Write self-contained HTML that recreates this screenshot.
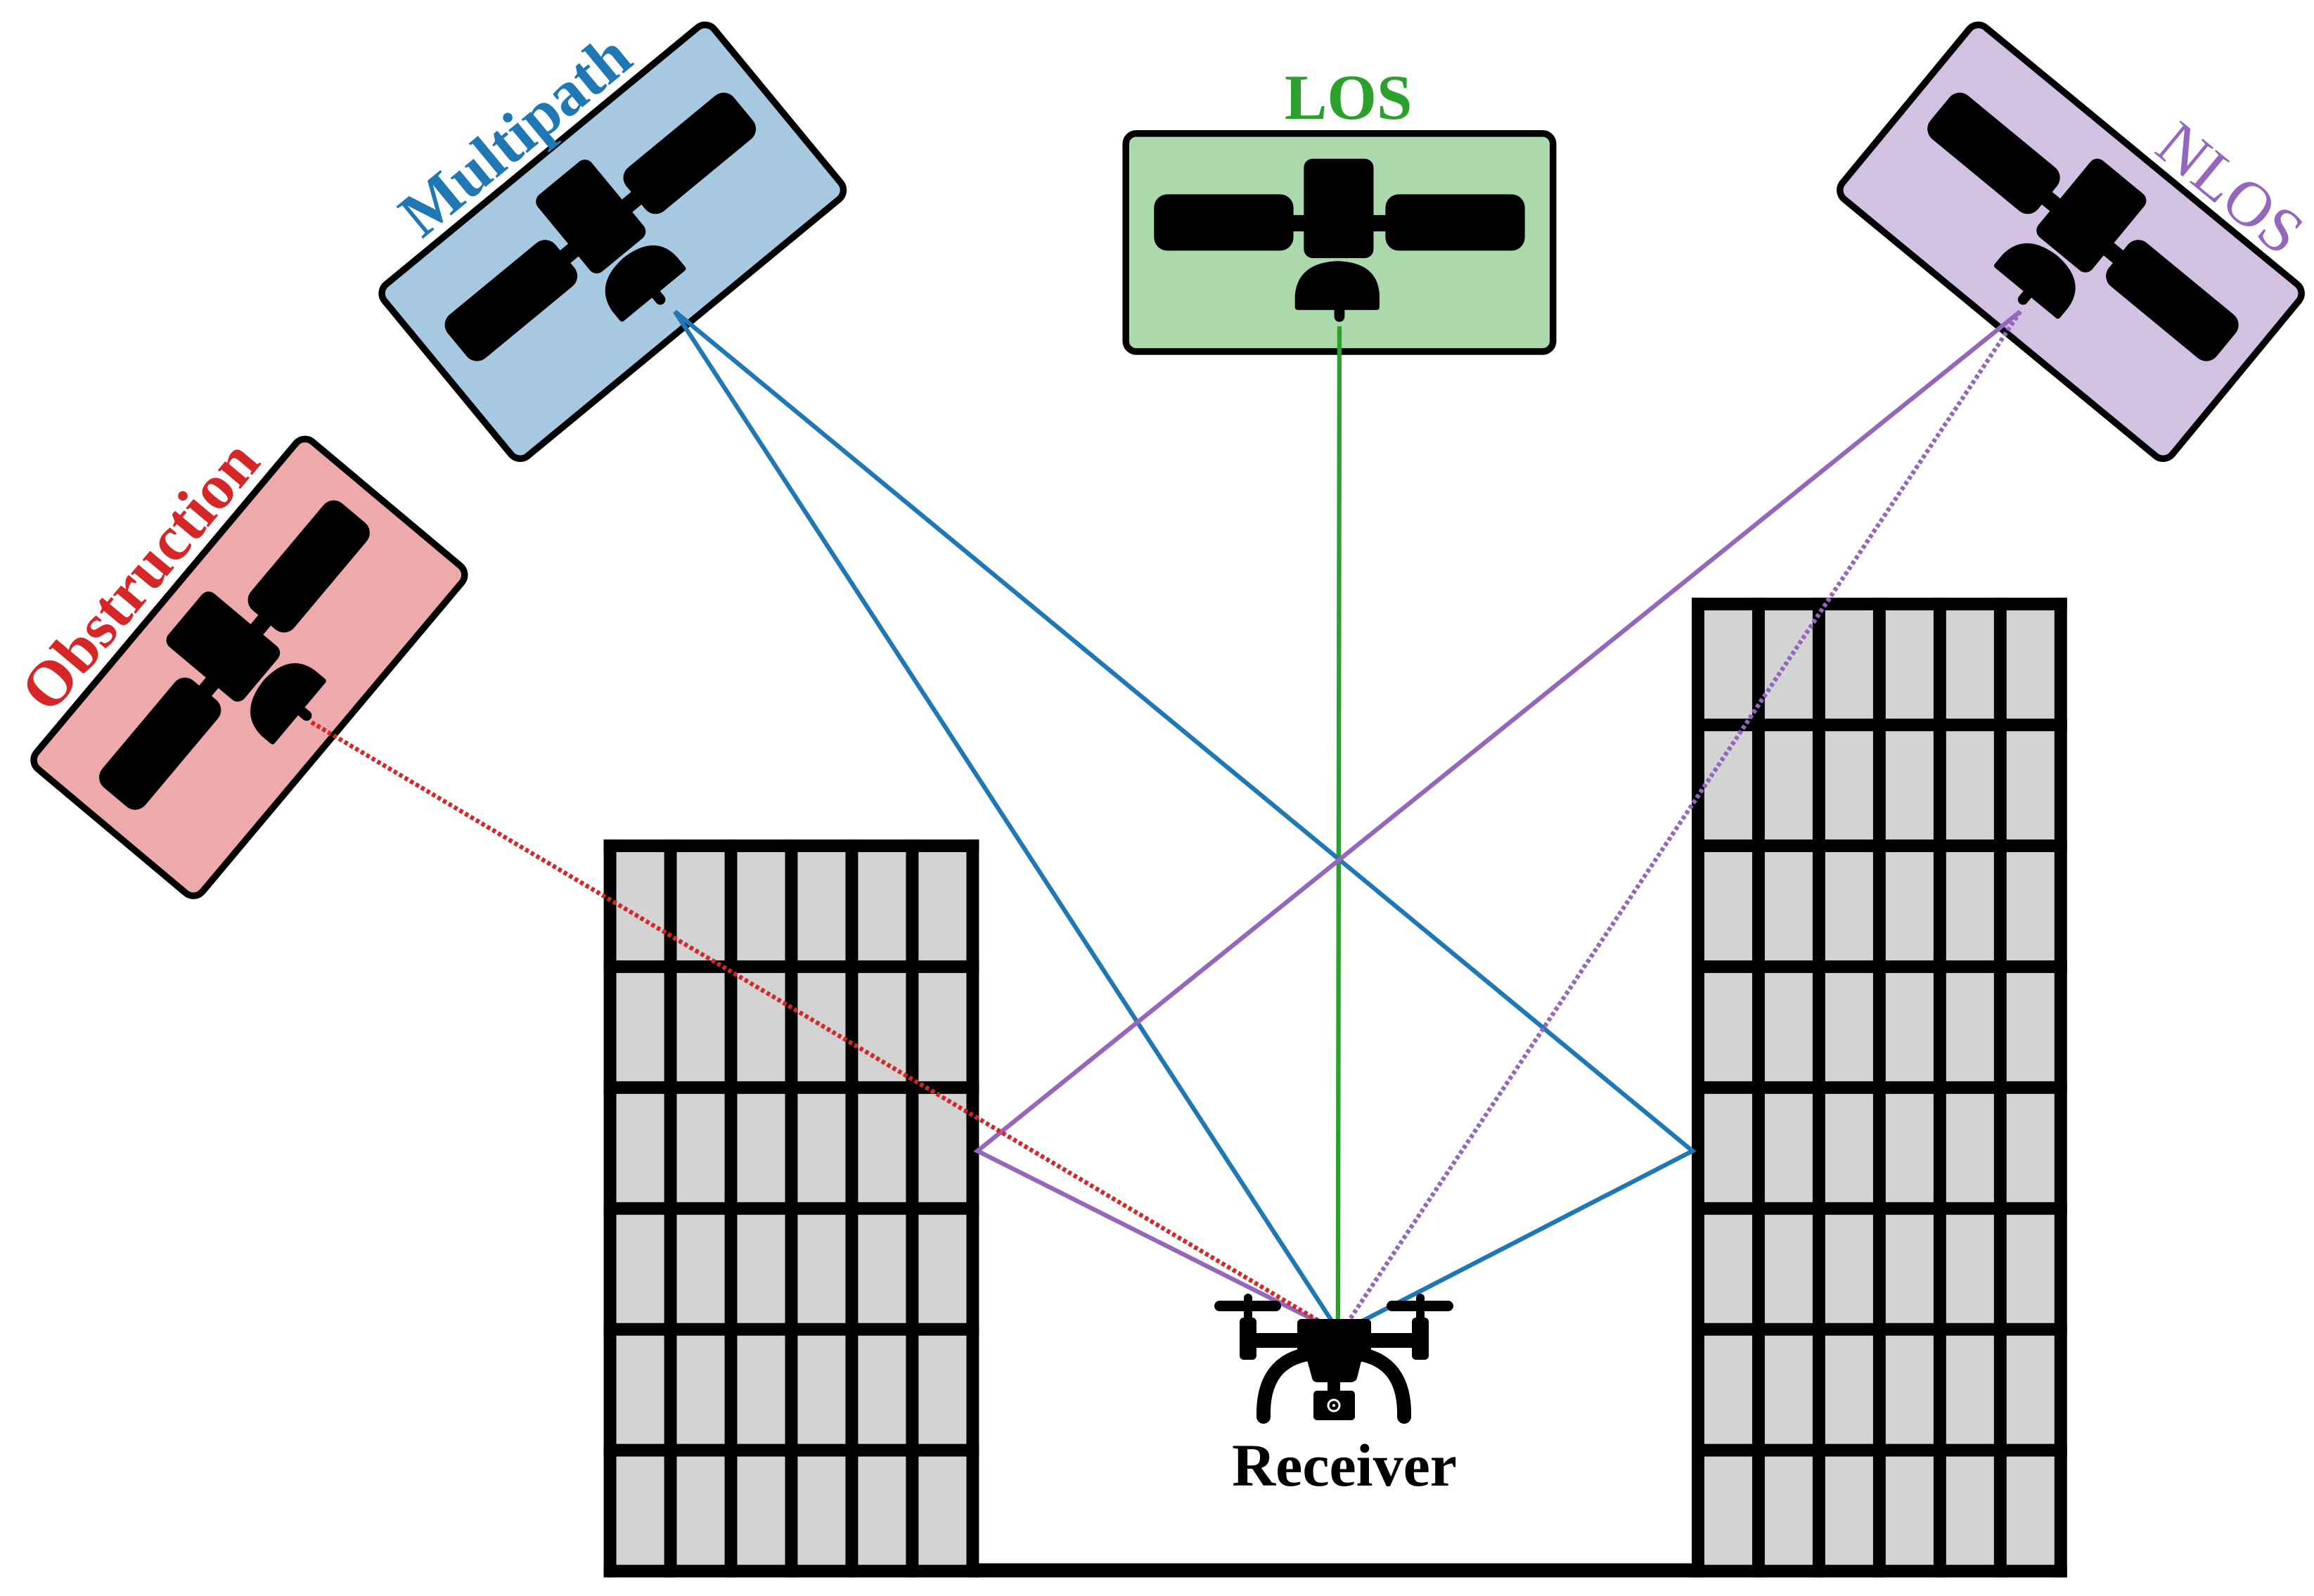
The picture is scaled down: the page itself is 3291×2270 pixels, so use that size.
<!DOCTYPE html>
<html><head><meta charset="utf-8"><style>
html,body{margin:0;padding:0;background:#fff;}
svg{display:block;}
text{font-family:"Liberation Serif",serif;font-weight:bold;}
</style></head><body>
<svg width="3291" height="2270" viewBox="0 0 3291 2270" xmlns="http://www.w3.org/2000/svg">
<defs>
<g id="sat">
  <rect x="-125" y="-32" width="94" height="38" rx="9" fill="#000"/>
  <rect x="31" y="-32" width="94" height="38" rx="9" fill="#000"/>
  <rect x="-35" y="-18" width="70" height="11" fill="#000"/>
  <rect x="-24" y="-56" width="47" height="67" rx="6" fill="#000"/>
  <path d="M -30 44 L -30 36 Q -28 14 -1 13 Q 26 14 27 36 L 27 44 Q 27 46 25 46 L -28 46 Q -30 46 -30 44 Z" fill="#000"/>
  <rect x="-3.5" y="40" width="7" height="14" rx="3.5" fill="#000"/>
</g>
</defs>
<g transform="scale(2.1096)">
  <!-- left building -->
  <rect x="407" y="566" width="253" height="497.5" fill="#d3d3d3"/>
  <g fill="#000">
    <rect x="407" y="566" width="8.5" height="497.5"/>
    <rect x="447.75" y="566" width="8.5" height="497.5"/>
    <rect x="488.5" y="566" width="8.5" height="497.5"/>
    <rect x="529.25" y="566" width="8.5" height="497.5"/>
    <rect x="570" y="566" width="8.5" height="497.5"/>
    <rect x="610.75" y="566" width="8.5" height="497.5"/>
    <rect x="651.5" y="566" width="8.5" height="497.5"/>
    <rect x="407" y="566" width="253" height="8.5"/>
    <rect x="407" y="647.5" width="253" height="8.5"/>
    <rect x="407" y="729" width="253" height="8.5"/>
    <rect x="407" y="810.5" width="253" height="8.5"/>
    <rect x="407" y="892" width="253" height="8.5"/>
    <rect x="407" y="973.5" width="253" height="8.5"/>
    <rect x="407" y="1055" width="253" height="8.5"/>
  </g>
  <!-- right building -->
  <rect x="1140.5" y="403" width="253" height="660.5" fill="#d3d3d3"/>
  <g fill="#000">
    <rect x="1140.5" y="403" width="8.5" height="660.5"/>
    <rect x="1181.25" y="403" width="8.5" height="660.5"/>
    <rect x="1222" y="403" width="8.5" height="660.5"/>
    <rect x="1262.75" y="403" width="8.5" height="660.5"/>
    <rect x="1303.5" y="403" width="8.5" height="660.5"/>
    <rect x="1344.25" y="403" width="8.5" height="660.5"/>
    <rect x="1385" y="403" width="8.5" height="660.5"/>
    <rect x="1140.5" y="403" width="253" height="8.5"/>
    <rect x="1140.5" y="484.5" width="253" height="8.5"/>
    <rect x="1140.5" y="566" width="253" height="8.5"/>
    <rect x="1140.5" y="647.5" width="253" height="8.5"/>
    <rect x="1140.5" y="729" width="253" height="8.5"/>
    <rect x="1140.5" y="810.5" width="253" height="8.5"/>
    <rect x="1140.5" y="892" width="253" height="8.5"/>
    <rect x="1140.5" y="973.5" width="253" height="8.5"/>
    <rect x="1140.5" y="1055" width="253" height="8.5"/>
  </g>
  <rect x="658" y="1054" width="485" height="9.5" fill="#000"/>

  <g transform="translate(413,163) rotate(-39.5)">
    <rect x="-144" y="-75" width="288" height="150" rx="8" fill="#a6c8e0" stroke="#000" stroke-width="4.5"/>
    <use href="#sat"/>
    <text x="-5" y="-83" font-size="43" fill="#1f77b4" text-anchor="middle">Multipath</text>
  </g>
  <g transform="translate(903,163)">
    <rect x="-144" y="-73" width="288" height="147" rx="7" fill="#abd9ab" stroke="#000" stroke-width="4.5"/>
    <use href="#sat"/>
    <text x="6" y="-83" font-size="43" fill="#2ca02c" text-anchor="middle">LOS</text>
  </g>
  <g transform="translate(1396,163) rotate(39.5)">
    <rect x="-144" y="-75" width="288" height="150" rx="8" fill="#d3c1e3" stroke="#000" stroke-width="4.5"/>
    <use href="#sat"/>
    <text x="60" y="-82" font-size="43" fill="#9467bd" text-anchor="middle" style="font-weight:normal">NLOS</text>
  </g>
  <g transform="translate(168,450) rotate(-50)">
    <rect x="-144" y="-73" width="288" height="146" rx="8" fill="#eeaaaa" stroke="#000" stroke-width="4.5"/>
    <use href="#sat"/>
    <text x="0" y="-82" font-size="43" fill="#d62728" text-anchor="middle">Obstruction</text>
  </g>

  <g fill="none" stroke-width="3">
    <line x1="903" y1="220" x2="902" y2="897" stroke="#2ca02c"/>
    <polyline points="455,210 902,897" stroke="#1f77b4"/>
    <polyline points="455,210 1141,776 906,897" stroke="#1f77b4"/>
    <polyline points="1362,210 659,776 900,897" stroke="#9467bd"/>
    <line x1="1362" y1="210" x2="905" y2="897" stroke="#9467bd" stroke-dasharray="2.5 1.8"/>
    <line x1="210" y1="487" x2="900" y2="897" stroke="#d62728" stroke-dasharray="2.5 1.8"/>
  </g>
</g>

<g fill="#000">
  <rect x="1727" y="1850" width="95" height="15" rx="7.5"/>
  <rect x="1972" y="1850" width="95" height="15" rx="7.5"/>
  <rect x="1769" y="1840" width="12" height="40" rx="6"/>
  <rect x="2014" y="1840" width="12" height="40" rx="6"/>
  <rect x="1763" y="1874" width="24" height="60" rx="6"/>
  <rect x="2008" y="1874" width="24" height="60" rx="6"/>
  <rect x="1780" y="1896" width="235" height="21"/>
  <rect x="1845" y="1876" width="105" height="50" rx="6"/>
  <path d="M 1855 1920 L 1940 1920 L 1930 1960 Q 1928 1966 1920 1966 L 1875 1966 Q 1867 1966 1866 1960 Z"/>
  <rect x="1888" y="1960" width="18" height="22"/>
  <rect x="1868" y="1978" width="59" height="42" rx="5"/>
  <path d="M 1797 2015 Q 1795 1935 1865 1925" fill="none" stroke="#000" stroke-width="20" stroke-linecap="round"/>
  <path d="M 1997 2015 Q 1999 1935 1929 1925" fill="none" stroke="#000" stroke-width="20" stroke-linecap="round"/>
  <circle cx="1897" cy="1999" r="8" fill="none" stroke="#fff" stroke-width="3"/>
  <circle cx="1897" cy="1999" r="2" fill="#fff"/>
</g>
<text x="1912" y="2113" font-size="86" fill="#000" text-anchor="middle">Receiver</text>
</svg>
</body></html>
